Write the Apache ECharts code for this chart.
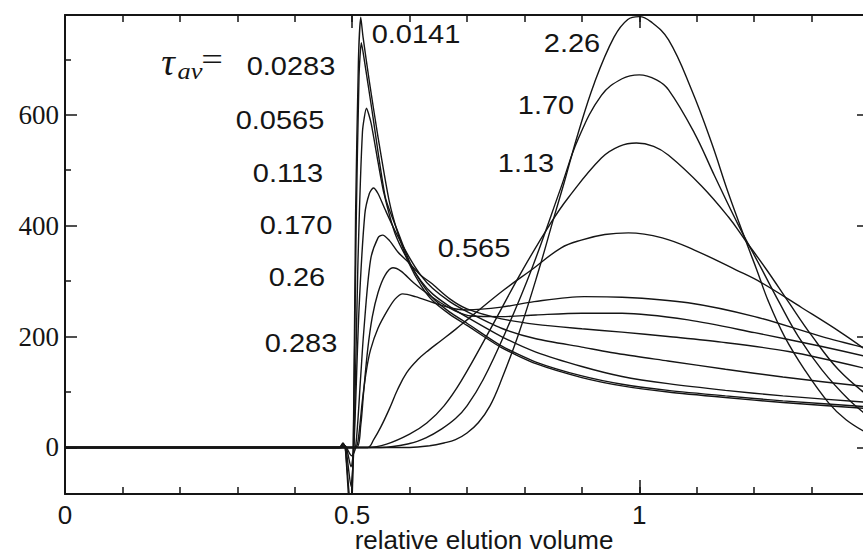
<!DOCTYPE html>
<html><head><meta charset="utf-8">
<script src="https://cdn.jsdelivr.net/npm/echarts@6/dist/echarts.min.js"></script>
<style>html,body{margin:0;padding:0;background:#fff}#c{width:863px;height:556px}</style>
</head><body><div id="c"></div>
<script>
// ---- data ----
const xTickLabels = [0, 0.5, 1];
const yTickLabels = [0, 200, 400, 600];
const yMinorTicks = [100, 300, 500, 700];
const tauLabels = ['0.0141','0.0283','0.0565','0.113','0.170','0.26','0.283','0.565','1.13','1.70','2.26'];

const tau0141 = [[0,0],[0.478,0],[0.484,8],[0.488,0],[0.4975,-140],[0.502,0],[0.506,420],[0.511,700],[0.515,776],[0.519,740],[0.53,660],[0.545,560],[0.564,447],[0.58,385],[0.60,330],[0.62,292],[0.64,265],[0.67,240],[0.70,220],[0.76,180],[0.82,151],[0.90,126],[0.97,111],[1.05,100],[1.15,90],[1.25,81],[1.4,70]];
const tau0283 = [[0,0],[0.478,0],[0.484,7],[0.488,0],[0.4975,-110],[0.502,0],[0.507,400],[0.512,670],[0.516,730],[0.521,700],[0.535,605],[0.558,450],[0.58,388],[0.60,335],[0.62,298],[0.64,270],[0.67,244],[0.70,224],[0.76,183],[0.82,154],[0.90,129],[0.97,114],[1.05,103],[1.15,93],[1.25,84],[1.4,73]];
const tau0565 = [[0,0],[0.479,0],[0.485,5],[0.489,0],[0.498,-70],[0.503,0],[0.510,330],[0.518,570],[0.525,612],[0.533,585],[0.545,515],[0.555,460],[0.575,385],[0.60,332],[0.62,300],[0.64,277],[0.67,254],[0.70,235],[0.76,200],[0.82,172],[0.90,146],[0.97,128],[1.05,115],[1.15,103],[1.25,93],[1.4,81]];
const tau113 = [[0,0],[0.48,0],[0.486,3],[0.49,0],[0.498,-35],[0.503,0],[0.512,250],[0.522,420],[0.53,458],[0.537,468],[0.545,458],[0.557,430],[0.575,390],[0.60,342],[0.62,310],[0.64,287],[0.67,263],[0.70,245],[0.76,215],[0.82,196],[0.90,181],[0.97,168],[1.05,156],[1.15,141],[1.25,127],[1.4,109]];
const tau170 = [[0,0],[0.481,0],[0.487,2],[0.49,0],[0.499,-15],[0.506,0],[0.515,130],[0.52,206],[0.532,338],[0.545,378],[0.553,383],[0.565,373],[0.58,352],[0.597,335],[0.62,310],[0.637,297],[0.67,268],[0.70,250],[0.76,232],[0.82,222],[0.90,214],[0.97,208],[1.05,200],[1.143,190],[1.26,173],[1.4,141]];
const tau26 = [[0,0],[0.485,0],[0.508,0],[0.515,40],[0.52,100],[0.527,176],[0.535,235],[0.545,279],[0.557,310],[0.571,324],[0.585,318],[0.607,297],[0.63,278],[0.654,261],[0.68,246],[0.707,237],[0.76,236],[0.82,239],[0.90,242],[0.97,242],[1.085,230],[1.201,207],[1.318,182],[1.4,163]];
const tau283 = [[0,0],[0.485,0],[0.505,0],[0.51,10],[0.518,86],[0.525,140],[0.532,176],[0.545,215],[0.562,248],[0.575,268],[0.588,277],[0.61,272],[0.642,261],[0.67,252],[0.70,248],[0.76,253],[0.817,263],[0.904,272],[0.97,271],[1.085,261],[1.201,236],[1.318,200],[1.4,178]];
const tau565 = [[0,0],[0.50,0],[0.527,0],[0.538,15],[0.55,37],[0.565,70],[0.579,104],[0.595,135],[0.614,158],[0.634,176],[0.654,192],[0.68,213],[0.707,236],[0.764,284],[0.812,320],[0.864,360],[0.899,374],[0.94,384],[0.981,387],[1.04,378],[1.096,356],[1.169,320],[1.213,297],[1.283,252],[1.35,208],[1.4,172]];
const tau1130 = [[0,0],[0.527,0],[0.56,6],[0.60,24],[0.63,44],[0.66,75],[0.69,120],[0.74,212],[0.794,315],[0.846,405],[0.876,450],[0.934,522],[0.965,543],[0.995,549],[1.025,543],[1.051,527],[1.108,472],[1.155,416],[1.183,376],[1.222,320],[1.26,262],[1.30,202],[1.347,140],[1.4,92]];
const tau1700 = [[0,0],[0.55,0],[0.60,7],[0.63,18],[0.654,32],[0.68,52],[0.70,75],[0.728,122],[0.77,215],[0.812,320],[0.864,470],[0.893,555],[0.934,635],[0.97,665],[1.0,672],[1.03,663],[1.051,645],[1.096,567],[1.131,490],[1.173,400],[1.213,322],[1.243,263],[1.277,200],[1.318,140],[1.365,86],[1.4,55]];
const tau2260 = [[0,0],[0.60,0],[0.635,3],[0.66,8],[0.68,14],[0.70,26],[0.72,45],[0.74,75],[0.76,122],[0.79,205],[0.825,320],[0.85,410],[0.869,477],[0.893,565],[0.922,658],[0.956,740],[0.98,772],[1.0,777],[1.02,768],[1.051,735],[1.091,645],[1.126,549],[1.155,459],[1.19,360],[1.204,322],[1.225,263],[1.253,200],[1.288,140],[1.33,80],[1.36,50],[1.4,24]];

const curves = [tau0141, tau0283, tau0565, tau113, tau170, tau26, tau283, tau565, tau1130, tau1700, tau2260];

// ---- layout (label centres, px) ----
const labelPos = [[416,34],[291,66],[280,120],[288,173],[296,225],[297,277],[301,343],[474,248],[526,163],[546,105],[572,43]];
const smoothness = [0.2,0.2,0.2,0.25,0.3,0.3,0.3,0.4,0.4,0.4,0.4];

const chart = echarts.init(document.getElementById('c'), null, {renderer:'svg'});
const INK = '#151515';
const SANS = '"Liberation Sans", Arial, sans-serif';
const SERIF = '"Liberation Serif", "Times New Roman", serif';
const YMIN = -84, YMAX = 780;

function xAx(pos, interval, len, lineShow, labels){
  return {type:'value', position:pos, min:0, max:1.4, interval:interval,
    axisLine:{show:lineShow, onZero:false, lineStyle:{color:INK, width:2}},
    axisTick:{show:true, inside:true, length:len, lineStyle:{color:INK, width:1.5}},
    axisLabel: labels ? {show:true, customValues:xTickLabels, fontFamily:SANS, fontSize:26, color:INK, margin:8,
        formatter: v => String(v)} : {show:false},
    splitLine:{show:false}};
}
function yAx(pos, ticks, len, lineShow, labels){
  return {type:'value', position:pos, min:YMIN, max:YMAX,
    axisLine:{show:lineShow, onZero:false, lineStyle:{color:INK, width:2}},
    axisTick:{show:true, inside:true, length:len, customValues:ticks, lineStyle:{color:INK, width:1.5}},
    axisLabel: labels ? {show:true, customValues:yTickLabels, fontFamily:SERIF, fontSize:27, color:INK, margin:6} : {show:false},
    splitLine:{show:false}};
}

const xAxes = [xAx('bottom',0.1,7,true,true), xAx('bottom',0.5,14,false,false), xAx('top',0.1,7,true,false), xAx('top',0.5,13,false,false)];
xAxes[0].name = 'relative elution volume';
xAxes[0].nameLocation = 'middle';
xAxes[0].nameGap = 33;
xAxes[0].nameMoveOverlap = false;
xAxes[0].nameTextStyle = {fontFamily:SANS, fontSize:26, color:INK, padding:[0,0,0,34]};

const yAxes = [yAx('left',yTickLabels,12,true,true), yAx('left',yMinorTicks,6,false,false), yAx('right',yTickLabels,12,true,false), yAx('right',yMinorTicks,6,false,false)];

const series = curves.map((d,i) => ({
  type:'line', name:tauLabels[i], data:d, xAxisIndex:0, yAxisIndex:0,
  showSymbol:false, smooth:smoothness[i], clip:true, animation:false,
  lineStyle:{color:INK, width:1.4}
}));

const graphics = tauLabels.map((t,i) => ({
  type:'text', x:labelPos[i][0], y:labelPos[i][1], scaleX:1.16,
  style:{text:t, font:'25px '+SANS, fill:INK, textAlign:'center', textVerticalAlign:'middle', align:'center', verticalAlign:'middle'}
}));
graphics.push({type:'text', x:168, y:62, style:{text:'τ', font:'italic 38px '+SERIF, fill:INK, textAlign:'center', textVerticalAlign:'middle', align:'center', verticalAlign:'middle'}});
graphics.push({type:'text', x:190, y:71, scaleX:1.1, style:{text:'av', font:'italic 24px '+SERIF, fill:INK, textAlign:'center', textVerticalAlign:'middle', align:'center', verticalAlign:'middle'}});
graphics.push({type:'text', x:212, y:60, scaleX:1.2, style:{text:'=', font:'32px '+SERIF, fill:INK, textAlign:'center', textVerticalAlign:'middle', align:'center', verticalAlign:'middle'}});

chart.setOption({
  animation:false,
  backgroundColor:'#fff',
  grid:{left:65, top:15, right:-6, bottom:62, containLabel:false, outerBoundsMode:'none'},
  xAxis:xAxes, yAxis:yAxes, series:series, graphic:graphics
});
</script></body></html>
